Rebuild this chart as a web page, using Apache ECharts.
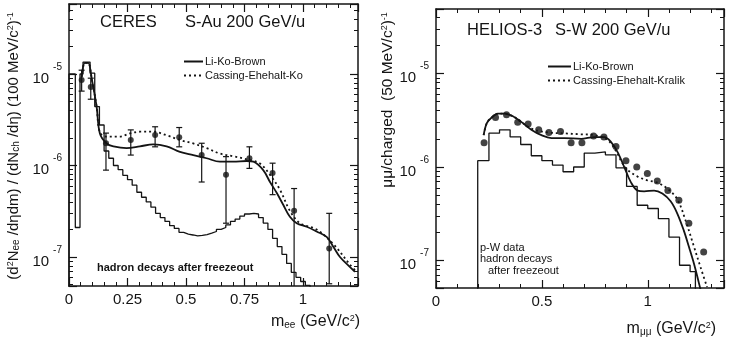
<!DOCTYPE html>
<html><head><meta charset="utf-8">
<script src="https://cdn.jsdelivr.net/npm/echarts@6/dist/echarts.min.js"></script>
<style>html,body{margin:0;padding:0;background:#fff}#c{width:734px;height:340px}</style>
</head><body><div id="c"></div>
<script>
// ---------- CERES (left panel) ----------
const ceresHistEdges = [0, 0.027, 0.047, 0.06, 0.09, 0.11, 0.13, 0.15, 0.17, 0.19, 0.21, 0.23, 0.25, 0.27, 0.29, 0.31, 0.33, 0.35, 0.37, 0.39, 0.41, 0.43, 0.45, 0.47, 0.49, 0.51, 0.53, 0.55, 0.57, 0.59, 0.61, 0.63, 0.65, 0.67, 0.69, 0.71, 0.73, 0.75, 0.77, 0.79, 0.81, 0.83, 0.85, 0.87, 0.89, 0.91, 0.93, 0.95, 0.97, 0.99, 1.01, 1.03];
const ceresHistValues = [1.0e-5, 2.1e-7, 1.0e-5, 1.35e-5, 1.02e-5, 4.4e-6, 2.77e-6, 1.44e-6, 1.2e-6, 1.0e-6, 9.0e-7, 7.8e-7, 7.0e-7, 6.1e-7, 5.1e-7, 4.5e-7, 4.0e-7, 3.5e-7, 3.0e-7, 2.7e-7, 2.45e-7, 2.2e-7, 2.05e-7, 1.86e-7, 1.78e-7, 1.74e-7, 1.70e-7, 1.72e-7, 1.76e-7, 1.82e-7, 1.9e-7, 2.0e-7, 2.1e-7, 2.24e-7, 2.45e-7, 2.6e-7, 2.8e-7, 2.95e-7, 3.0e-7, 2.95e-7, 2.7e-7, 2.35e-7, 2.0e-7, 1.6e-7, 1.3e-7, 1.07e-7, 8.5e-8, 6.8e-8, 6.0e-8, 5.4e-8, 4.9e-8];
const ceresLkbX = [0.054, 0.068, 0.082, 0.097, 0.118, 0.132, 0.161, 0.19, 0.246, 0.303, 0.36, 0.417, 0.474, 0.531, 0.588, 0.645, 0.702, 0.759, 0.788, 0.83, 0.859, 0.888, 0.916, 0.944, 0.973, 1.016, 1.058, 1.101, 1.13, 1.158, 1.2, 1.222];
const ceresLkbY = [9.3e-6, 1.32e-5, 1.32e-5, 8.9e-6, 4.4e-6, 2.24e-6, 1.74e-6, 1.62e-6, 1.55e-6, 1.62e-6, 1.70e-6, 1.62e-6, 1.41e-6, 1.30e-6, 1.2e-6, 1.1e-6, 1.1e-6, 1.12e-6, 1.1e-6, 8.9e-7, 6.6e-7, 5.0e-7, 3.7e-7, 2.75e-7, 2.34e-7, 2.14e-7, 1.9e-7, 1.66e-7, 1.29e-7, 1.0e-7, 7.8e-8, 6.9e-8];
const ceresCekX = [0.054, 0.068, 0.082, 0.097, 0.118, 0.132, 0.161, 0.218, 0.26, 0.303, 0.36, 0.417, 0.474, 0.531, 0.588, 0.645, 0.702, 0.759, 0.816, 0.859, 0.902, 0.944, 0.987, 1.058, 1.13, 1.2, 1.222];
const ceresCekY = [9.3e-6, 1.32e-5, 1.32e-5, 8.9e-6, 4.4e-6, 2.3e-6, 2.07e-6, 2.07e-6, 2.24e-6, 2.34e-6, 2.34e-6, 2.14e-6, 1.9e-6, 1.74e-6, 1.55e-6, 1.35e-6, 1.26e-6, 1.17e-6, 1.05e-6, 7.9e-7, 5.4e-7, 3.2e-7, 2.34e-7, 2.0e-7, 1.38e-7, 8.3e-8, 7.2e-8];
const ceresDataX = [0.054, 0.093, 0.158, 0.264, 0.368, 0.471, 0.567, 0.671, 0.771, 0.87, 0.962, 1.112];
const ceresDataY = [8.6e-6, 7.2e-6, 1.75e-6, 1.9e-6, 2.16e-6, 2.03e-6, 1.3e-6, 7.9e-7, 1.2e-6, 8.3e-7, 3.2e-7, 1.24e-7];
const ceresErrLo = [6.5e-6, 5.3e-6, 8.9e-7, 1.3e-6, 1.6e-6, 1.6e-6, 6.6e-7, 2.34e-7, 9.3e-7, 4.8e-7, 3.0e-8, 5.1e-8];
const ceresErrHi = [1.1e-5, 9.0e-6, 2.26e-6, 2.45e-6, 2.65e-6, 2.6e-6, 1.75e-6, 1.25e-6, 1.6e-6, 1.06e-6, 5.6e-7, 3.0e-7];

// ---------- HELIOS-3 (right panel) ----------
const heliosHistEdges = [0.197, 0.25, 0.30, 0.35, 0.40, 0.45, 0.50, 0.55, 0.60, 0.65, 0.70, 0.75, 0.80, 0.85, 0.90, 0.95, 1.00, 1.05, 1.10, 1.15, 1.20, 1.225];
const heliosHistValues = [1.17e-6, 2.3e-6, 2.5e-6, 2.1e-6, 1.74e-6, 1.32e-6, 1.17e-6, 1.05e-6, 8.9e-7, 1.0e-6, 1.41e-6, 1.45e-6, 1.35e-6, 9.8e-7, 6.2e-7, 3.9e-7, 3.6e-7, 2.8e-7, 1.78e-7, 8.9e-8, 7.6e-8];
const heliosLkbX = [0.225, 0.24, 0.263, 0.294, 0.325, 0.365, 0.404, 0.45, 0.498, 0.545, 0.607, 0.685, 0.748, 0.795, 0.826, 0.857, 0.889, 0.92, 0.952, 0.983, 1.03, 1.069, 1.108, 1.139, 1.17, 1.194, 1.218, 1.241, 1.25];
const heliosLkbY = [2.19e-6, 2.95e-6, 3.39e-6, 3.72e-6, 3.72e-6, 3.47e-6, 3.02e-6, 2.51e-6, 2.19e-6, 2.04e-6, 2.04e-6, 2.0e-6, 2.09e-6, 2.09e-6, 1.86e-6, 1.45e-6, 1.0e-6, 6.9e-7, 5.6e-7, 5.5e-7, 5.6e-7, 5.2e-7, 4.3e-7, 3.2e-7, 2.1e-7, 1.41e-7, 9.3e-8, 5.8e-8, 4.8e-8];
const heliosCekX = [0.225, 0.24, 0.263, 0.294, 0.325, 0.365, 0.404, 0.45, 0.529, 0.607, 0.68, 0.75, 0.81, 0.85, 0.88, 0.905, 0.952, 0.998, 1.045, 1.092, 1.14, 1.178, 1.218, 1.249, 1.28];
const heliosCekY = [2.19e-6, 2.95e-6, 3.39e-6, 3.72e-6, 3.72e-6, 3.47e-6, 3.02e-6, 2.57e-6, 2.34e-6, 2.29e-6, 2.24e-6, 2.19e-6, 1.95e-6, 1.48e-6, 1.1e-6, 9.3e-7, 7.9e-7, 7.2e-7, 6.8e-7, 5.9e-7, 4.5e-7, 2.7e-7, 1.41e-7, 8.5e-8, 5.2e-8];
const heliosDataX = [0.227, 0.281, 0.333, 0.386, 0.435, 0.485, 0.533, 0.588, 0.638, 0.689, 0.744, 0.793, 0.85, 0.897, 0.948, 0.998, 1.045, 1.095, 1.147, 1.194, 1.264];
const heliosDataY = [1.82e-6, 3.39e-6, 3.63e-6, 3.02e-6, 2.88e-6, 2.51e-6, 2.34e-6, 2.4e-6, 1.82e-6, 1.82e-6, 2.14e-6, 2.09e-6, 1.66e-6, 1.17e-6, 1.0e-6, 8.5e-7, 7.1e-7, 5.6e-7, 4.4e-7, 2.5e-7, 1.23e-7];

// axis ranges / ticks
const ceresXRange = [0, 1.235], ceresXTick = 0.25;
const ceresYRange = [4.82e-8, 5.82e-5];
const heliosXRange = [0, 1.36], heliosXTick = 0.5;
const heliosYRange = [5.08e-8, 4.9e-5];

const INK = '#141414';
const FONT = '"Liberation Sans", Arial, Helvetica, sans-serif';

function zip(xs, ys) { return xs.map((x, i) => [x, ys[i]]); }
function stepData(edges, vals) {
  const d = [[edges[0], 1e-10]];
  for (let i = 0; i < vals.length; i++) d.push([edges[i], vals[i]]);
  d.push([edges[edges.length - 1], vals[vals.length - 1]]);
  d.push([edges[edges.length - 1], 1e-10]);
  return d;
}
function logFmt(v) {
  const e = Math.log10(v), r = Math.round(e);
  if (Math.abs(e - r) > 1e-3) return '';
  return '{b|10}{e|' + r + '}';
}
const logRich = {
  b: { fontSize: 15, lineHeight: 24, verticalAlign: 'bottom', color: INK, fontFamily: FONT },
  e: { fontSize: 10, lineHeight: 24, verticalAlign: 'top', color: INK, fontFamily: FONT, padding: [0, 0, 0, 4] }
};
function xAx(grid, pos, range, interval, minorSplit, showLabel) {
  return {
    type: 'value', gridIndex: grid, position: pos, min: range[0], max: range[1], interval: interval,
    axisLine: { show: true, onZero: false, lineStyle: { color: INK, width: 1.5 } },
    axisTick: { show: true, inside: true, length: 8, lineStyle: { color: INK, width: 1.2 } },
    minorTick: { show: true, splitNumber: minorSplit, length: 4, lineStyle: { color: INK, width: 1 } },
    splitLine: { show: false }, minorSplitLine: { show: false },
    axisLabel: { show: showLabel, color: INK, fontSize: 15, fontFamily: FONT, margin: 6, showMaxLabel: false,
      formatter: v => String(v) }
  };
}
function yAx(grid, pos, range, showLabel) {
  return {
    type: 'log', logBase: 10, gridIndex: grid, position: pos, min: range[0], max: range[1],
    axisLine: { show: true, onZero: false, lineStyle: { color: INK, width: 1.5 } },
    axisTick: { show: true, inside: true, length: 8, lineStyle: { color: INK, width: 1.2 } },
    minorTick: { show: true, splitNumber: 9, length: 4, lineStyle: { color: INK, width: 1 } },
    splitLine: { show: false }, minorSplitLine: { show: false },
    axisLabel: { show: showLabel, margin: 7, showMinLabel: false, showMaxLabel: false, formatter: logFmt, rich: logRich }
  };
}
function errRender(params, api) {
  const x = api.value(0), lo = api.value(1), hi = api.value(2);
  const a = api.coord([x, hi]), b = api.coord([x, lo]);
  const w = 3, st = { stroke: INK, lineWidth: 1.2 };
  return { type: 'group', children: [
    { type: 'line', shape: { x1: a[0], y1: a[1], x2: b[0], y2: b[1] }, style: st },
    { type: 'line', shape: { x1: a[0] - w, y1: a[1], x2: a[0] + w, y2: a[1] }, style: st },
    { type: 'line', shape: { x1: b[0] - w, y1: b[1], x2: b[0] + w, y2: b[1] }, style: st }
  ]};
}
const lineBase = { type: 'line', symbol: 'none', showSymbol: false, silent: true, clip: true, animation: false };

const txt = (x, y, text, size, extra) => Object.assign({
  type: 'text', x: x, y: y, silent: true,
  style: Object.assign({ text: text, fill: INK, fontSize: size, fontFamily: FONT, align: 'left', verticalAlign: 'middle' }, extra || {})
});
const subSup = {
  s: { fontSize: 10, lineHeight: 12, verticalAlign: 'bottom', fontFamily: FONT, fill: INK, color: INK },
  p: { fontSize: 9, lineHeight: 12, verticalAlign: 'top', fontFamily: FONT, fill: INK, color: INK }
};
const legendBase = {
  orient: 'vertical', itemHeight: 8, itemGap: 3, selectedMode: false,
  itemStyle: { color: 'rgba(0,0,0,0)', borderWidth: 0, opacity: 0 },
  textStyle: { fontSize: 11, color: INK, fontFamily: FONT, padding: [0, 0, 0, -3] }
};

const chart = echarts.init(document.getElementById('c'), null, { renderer: 'canvas' });
chart.setOption({
  animation: false,
  backgroundColor: '#fff',
  grid: [
    { left: 69, top: 4, width: 289, height: 282 },
    { left: 436, top: 9, width: 288, height: 279 }
  ],
  xAxis: [
    xAx(0, 'bottom', ceresXRange, ceresXTick, 5, true),
    xAx(0, 'top', ceresXRange, ceresXTick, 5, false),
    xAx(1, 'bottom', heliosXRange, heliosXTick, 5, true),
    xAx(1, 'top', heliosXRange, heliosXTick, 5, false)
  ],
  yAxis: [
    yAx(0, 'left', ceresYRange, true),
    yAx(0, 'right', ceresYRange, false),
    yAx(1, 'left', heliosYRange, true),
    yAx(1, 'right', heliosYRange, false)
  ],
  legend: [
    Object.assign({}, legendBase, { data: ['Li-Ko-Brown', 'Cassing-Ehehalt-Ko'], left: 178, top: 51, itemWidth: 19 }),
    Object.assign({}, legendBase, { data: ['Li-Ko-Brown', 'Cassing-Ehehalt-Kralik'], left: 542, top: 56, itemWidth: 23 })
  ],
  series: [
    Object.assign({}, lineBase, { name: 'hadron decays', xAxisIndex: 0, yAxisIndex: 0, step: 'end',
      data: stepData(ceresHistEdges, ceresHistValues), lineStyle: { color: INK, width: 1.3 } }),
    Object.assign({}, lineBase, { name: 'Li-Ko-Brown', xAxisIndex: 0, yAxisIndex: 0, smooth: 0.35,
      data: zip(ceresLkbX, ceresLkbY), itemStyle: { color: INK }, lineStyle: { color: INK, width: 1.8 } }),
    Object.assign({}, lineBase, { name: 'Cassing-Ehehalt-Ko', xAxisIndex: 0, yAxisIndex: 0, smooth: 0.35,
      data: zip(ceresCekX, ceresCekY), itemStyle: { color: INK }, lineStyle: { color: INK, width: 1.8, type: [2, 3] } }),
    { type: 'custom', name: 'err', xAxisIndex: 0, yAxisIndex: 0, renderItem: errRender, clip: true, silent: true,
      data: ceresDataX.map((x, i) => [x, ceresErrLo[i], ceresErrHi[i]]), encode: { x: 0, y: [1, 2] } },
    { type: 'scatter', name: 'CERES data', xAxisIndex: 0, yAxisIndex: 0, symbol: 'circle', symbolSize: 6, silent: true,
      data: zip(ceresDataX, ceresDataY), itemStyle: { color: INK } },

    Object.assign({}, lineBase, { name: 'hadron decays p-W', xAxisIndex: 2, yAxisIndex: 2, step: 'end',
      data: stepData(heliosHistEdges, heliosHistValues), lineStyle: { color: INK, width: 1.3 } }),
    Object.assign({}, lineBase, { name: 'Li-Ko-Brown', xAxisIndex: 2, yAxisIndex: 2, smooth: 0.35,
      data: zip(heliosLkbX, heliosLkbY), itemStyle: { color: INK }, lineStyle: { color: INK, width: 1.8 } }),
    Object.assign({}, lineBase, { name: 'Cassing-Ehehalt-Kralik', xAxisIndex: 2, yAxisIndex: 2, smooth: 0.35,
      data: zip(heliosCekX, heliosCekY), itemStyle: { color: INK }, lineStyle: { color: INK, width: 1.8, type: [2, 3] } }),
    { type: 'scatter', name: 'HELIOS data', xAxisIndex: 2, yAxisIndex: 2, symbol: 'circle', symbolSize: 7, silent: true,
      data: zip(heliosDataX, heliosDataY), itemStyle: { color: INK } }
  ],
  graphic: [
    txt(100, 22, 'CERES', 16.5),
    txt(185, 22, 'S-Au 200 GeV/u', 16.5),
    txt(467, 30, 'HELIOS-3', 16.5),
    txt(555, 30, 'S-W 200 GeV/u', 16.5),
    txt(97, 268, 'hadron decays after freezeout', 11, { fontWeight: 'bold' }),
    txt(480, 248, 'p-W data', 11),
    txt(480, 259, 'hadron decays', 11),
    txt(488, 271, 'after freezeout', 11),
    txt(360, 322, 'm{s|ee} (GeV/c{p|2})', 16, { align: 'right', rich: subSup }),
    txt(716, 329, 'm{s|μμ} (GeV/c{p|2})', 16, { align: 'right', rich: subSup }),
    Object.assign(txt(14, 146, '(d{p|2}N{s|ee} /dηdm) / (dN{s|ch} /dη) (100 MeV/c{p|2}){p|-1}', 15, { align: 'center', rich: subSup }), { rotation: Math.PI / 2 }),
    Object.assign(txt(388, 100, 'μμ/charged  (50 MeV/c{p|2}){p|-1}', 15.5, { align: 'center', rich: subSup }), { rotation: Math.PI / 2 })
  ]
});
</script>
</body></html>
